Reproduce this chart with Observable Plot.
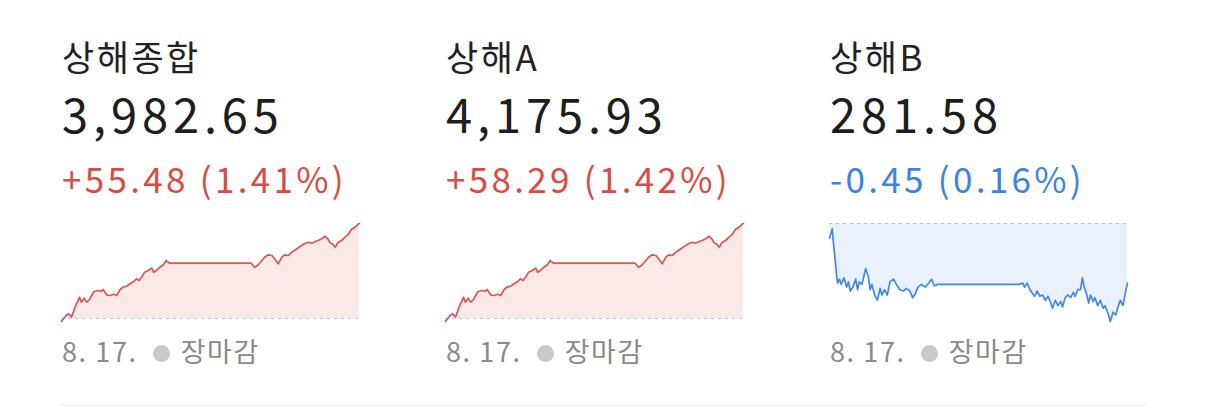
<!DOCTYPE html>
<html><head><meta charset="utf-8">
<script src="https://cdn.jsdelivr.net/npm/d3@7"></script>
<script src="https://cdn.jsdelivr.net/npm/@observablehq/plot@0.6"></script>
<style>
html,body{margin:0;padding:0;background:#fff;}
body{width:1206px;height:406px;overflow:hidden;position:relative;font-family:"Noto Sans CJK KR","Noto Sans",sans-serif;}
.panel{position:absolute;top:0;width:384px;height:406px;}
.t{position:absolute;left:0;white-space:nowrap;line-height:1;}
.title{top:38px;font-size:35px;letter-spacing:2.5px;color:#222;}
.value{top:89px;font-size:47px;letter-spacing:4.9px;color:#1e1e1e;}
.change{top:160px;font-size:35px;letter-spacing:3.3px;}
.foot{top:337px;font-size:27px;letter-spacing:1.6px;color:#8a8a8a;}
.dot{display:inline-block;width:17px;height:17px;border-radius:50%;background:#c9c9c9;margin:0 11px 0 15px;vertical-align:0px;}
.chart{position:absolute;left:-3px;top:220px;}
.sep{position:absolute;left:60px;top:405px;width:1086px;height:1px;background:#ececec;}
</style></head>
<body>
<div id="root"></div>
<div class="sep"></div>
<script>
// ---- data ----
const names = ["상해종합", "상해A", "상해B"];
const closes = ["3,982.65", "4,175.93", "281.58"];
const changes = ["+55.48 (1.41%)", "+58.29 (1.42%)", "-0.45 (0.16%)"];
const prevCloses = [3927.17, 4117.64, 282.03];
const dateLabel = "8. 17.";
const statusLabel = "장마감";

const timesSH = ["09:30","09:35","09:38","09:41","09:45","09:50","09:52","09:55","09:58","10:01","10:06","10:11","10:14","10:16","10:20","10:24","10:28","10:31","10:35","10:38","10:42","10:46","10:50","10:53","10:56","11:00","11:02","11:06","11:10","11:12","11:15","11:19","11:23","11:26","11:28","11:30","13:00","13:04","13:08","13:11","13:15","13:19","13:23","13:26","13:30","13:34","13:37","13:41","13:45","13:48","13:53","13:56","13:59","14:03","14:07","14:11","14:14","14:18","14:22","14:25","14:27","14:31","14:33","14:36","14:40","14:44","14:48","14:51","14:55","14:59","15:00"];
const valuesComposite = [3925.42,3928.92,3929.91,3927.93,3933.77,3939.61,3936.69,3939.03,3936.69,3938.27,3942.94,3943.52,3942.94,3944.11,3941.01,3940.60,3941.36,3940.60,3944.11,3945.45,3946.03,3947.43,3948.78,3950.35,3949.36,3952.28,3954.21,3955.20,3956.55,3954.21,3955.20,3957.13,3958.53,3961.04,3960.05,3959.47,3959.47,3957.13,3958.53,3960.46,3962.97,3964.37,3963.96,3962.03,3959.11,3962.97,3964.37,3963.96,3965.89,3966.88,3968.81,3969.80,3970.79,3971.73,3971.15,3972.14,3972.72,3973.71,3975.23,3973.71,3971.73,3970.21,3968.81,3971.38,3972.72,3974.65,3976.63,3979.15,3980.49,3982.47,3982.65];
const valuesA = [4115.80,4119.48,4120.52,4118.44,4124.57,4130.71,4127.64,4130.10,4127.64,4129.30,4134.21,4134.82,4134.21,4135.43,4132.18,4131.75,4132.55,4131.75,4135.43,4136.85,4137.46,4138.93,4140.34,4142.00,4140.96,4144.02,4146.05,4147.09,4148.50,4146.05,4147.09,4149.12,4150.59,4153.23,4152.19,4151.57,4151.57,4149.12,4150.59,4152.62,4155.25,4156.73,4156.30,4154.27,4151.20,4155.25,4156.73,4156.30,4158.32,4159.36,4161.39,4162.43,4163.48,4164.46,4163.84,4164.89,4165.50,4166.54,4168.14,4166.54,4164.46,4162.86,4161.39,4164.09,4165.50,4167.53,4169.61,4172.25,4173.66,4175.75,4175.93];
const timesB = ["09:30","09:31","09:33","09:34","09:36","09:38","09:39","09:41","09:43","09:46","09:49","09:51","09:53","09:56","09:59","10:01","10:03","10:06","10:08","10:10","10:13","10:15","10:17","10:20","10:23","10:26","10:28","10:31","10:34","10:37","10:41","10:44","10:48","10:52","10:55","10:59","11:02","11:05","11:08","11:12","11:16","11:20","11:23","11:26","11:30","13:00","13:04","13:06","13:09","13:12","13:15","13:17","13:20","13:23","13:26","13:29","13:32","13:35","13:37","13:40","13:43","13:46","13:48","13:51","13:54","13:57","14:00","14:02","14:05","14:08","14:10","14:12","14:15","14:17","14:19","14:22","14:24","14:27","14:30","14:33","14:35","14:38","14:41","14:44","14:47","14:50","14:52","14:55","14:58","15:00"];
const valuesB = [281.92,281.94,281.99,281.91,281.77,281.63,281.58,281.61,281.57,281.62,281.55,281.59,281.52,281.55,281.61,281.53,281.59,281.57,281.63,281.69,281.63,281.53,281.57,281.49,281.45,281.54,281.49,281.53,281.49,281.59,281.61,281.57,281.53,281.52,281.54,281.52,281.47,281.50,281.55,281.57,281.55,281.58,281.61,281.56,281.57,281.57,281.58,281.55,281.58,281.53,281.50,281.48,281.52,281.48,281.49,281.45,281.48,281.43,281.39,281.45,281.41,281.44,281.40,281.47,281.49,281.47,281.51,281.48,281.53,281.53,281.62,281.55,281.49,281.43,281.49,281.44,281.47,281.41,281.45,281.39,281.41,281.36,281.29,281.36,281.34,281.41,281.45,281.41,281.52,281.58];

const seriesTimes = [timesSH, timesSH, timesB];
const seriesValues = [valuesComposite, valuesA, valuesB];
const panelLefts = [62, 446, 830];

// ---- styles ----
const RED = "#dc4b43", RED_LINE = "#dd5750", RED_FILL = "#fbe9e8";
const BLUE = "#3b84e4", BLUE_LINE = "#4288e8", BLUE_FILL = "#e8f1fd";

const parse = d3.utcParse("%H:%M");
const root = document.getElementById("root");

names.forEach((name, i) => {
  const base = prevCloses[i];
  const up = changes[i].startsWith("+");
  const panel = document.createElement("div");
  panel.className = "panel";
  panel.style.left = panelLefts[i] + "px";
  panel.innerHTML = `
    <div class="t title">${name}</div>
    <div class="t value">${closes[i]}</div>
    <div class="t change" style="color:${up ? RED : BLUE}">${changes[i]}</div>
    <div class="t foot">${dateLabel}<span class="dot"></span>${statusLabel}</div>`;
  const data = seriesTimes[i].map((t, k) => ({t: parse(t), v: seriesValues[i][k]}));
  const vmin = Math.min(base, d3.min(data, d => d.v));
  const vmax = Math.max(base, d3.max(data, d => d.v));
  const chart = Plot.plot({
    width: 302,
    height: 104,
    marginLeft: 2, marginRight: 2, marginTop: 3, marginBottom: 3,
    x: {type: "utc", domain: [parse("09:30"), parse("15:00")], axis: null},
    y: {domain: [vmin, vmax], axis: null},
    color: {domain: ["up", "down"], range: [RED_LINE, BLUE_LINE]},
    marks: [
      Plot.areaY(data, {x: "t", y1: base, y2: "v", fill: up ? RED_FILL : BLUE_FILL}),
      Plot.ruleY([base], {stroke: "#c2c2c2", strokeDasharray: "3,4", strokeWidth: 1.2}),
      Plot.line(data, {x: "t", y: "v", z: null, stroke: d => d.v >= base ? "up" : "down", strokeWidth: 1.7, curve: "linear"})
    ]
  });
  chart.classList.add("chart");
  panel.appendChild(chart);
  root.appendChild(panel);
});
</script>
</body></html>
